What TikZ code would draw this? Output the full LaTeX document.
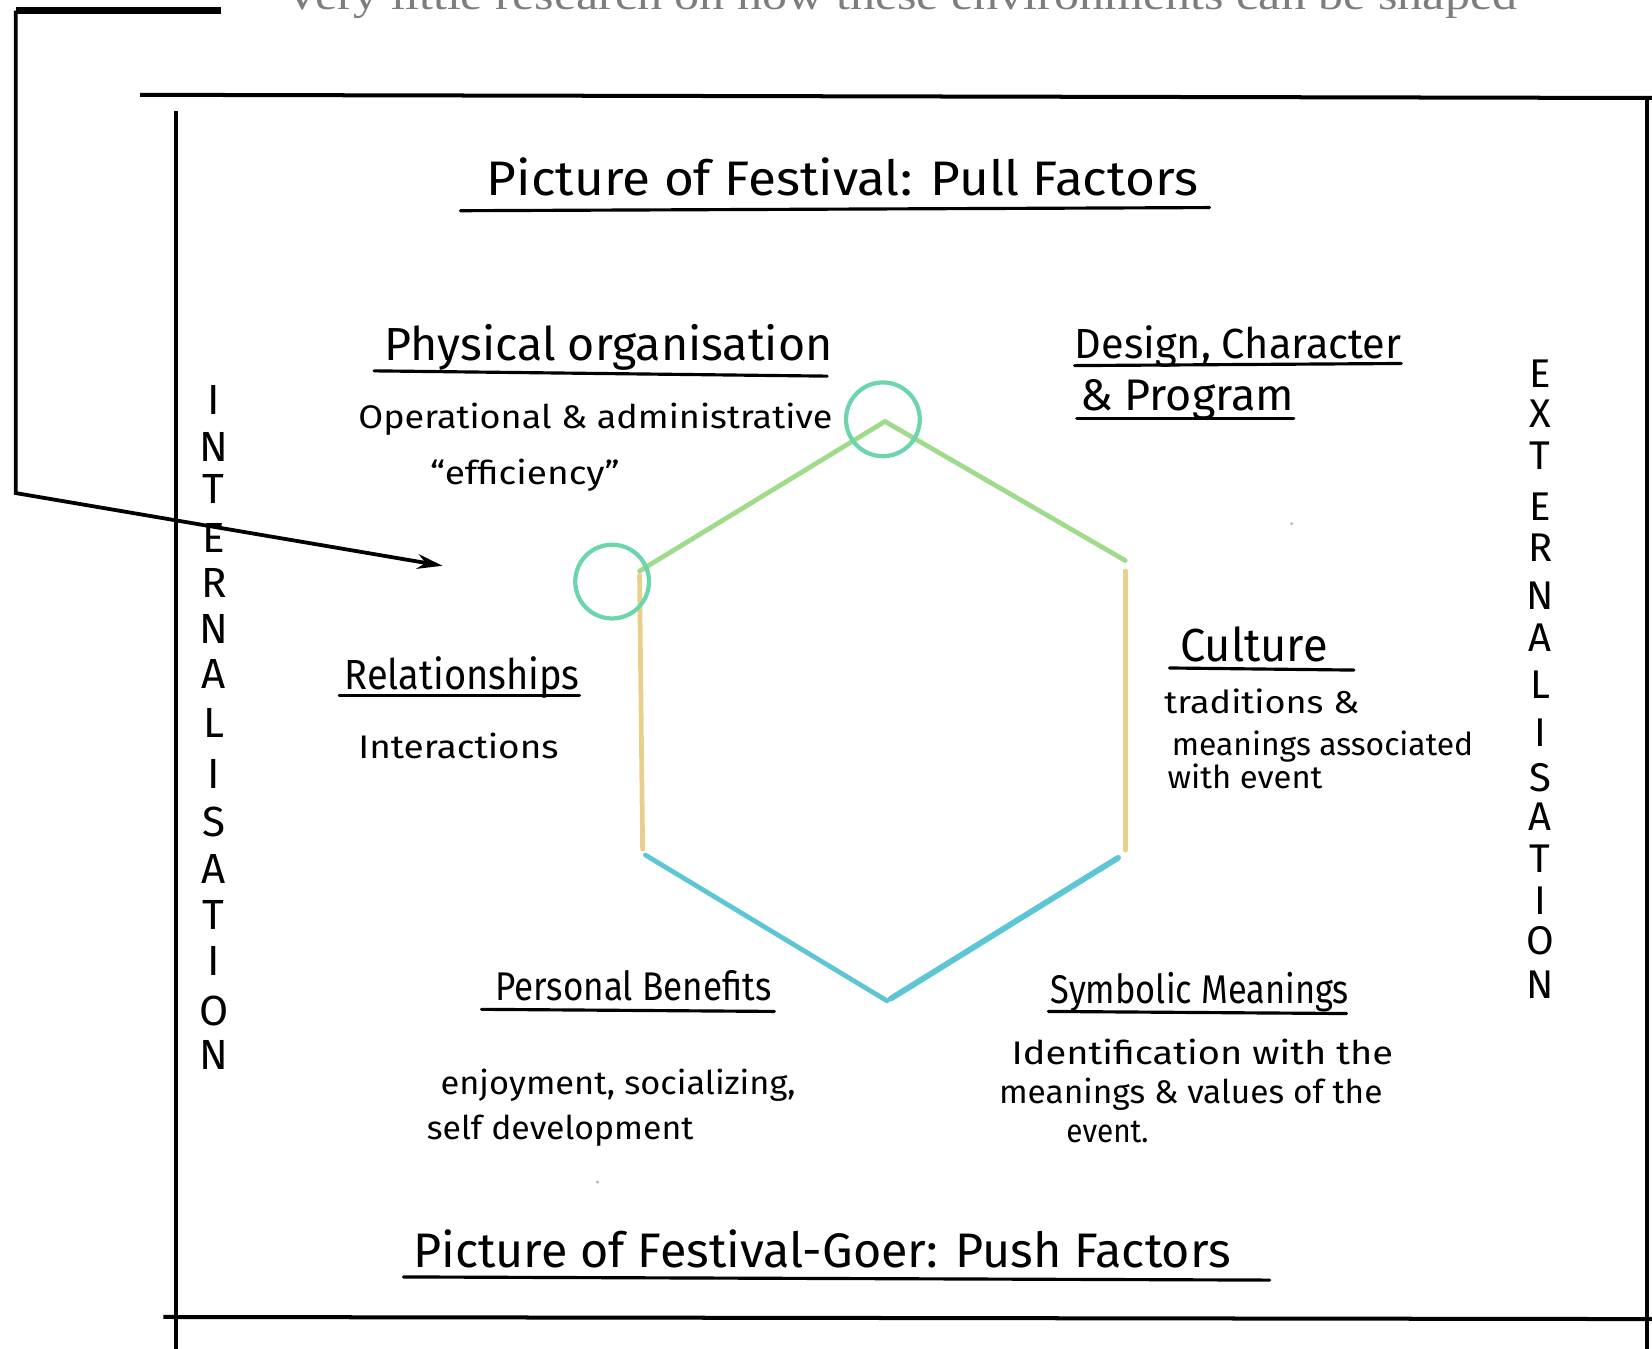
\documentclass[tikz,border=0pt]{standalone}
\usepackage{fontspec}
\setmainfont{Fira Sans}
\newfontfamily\greyfont{Liberation Serif}
\usetikzlibrary{arrows.meta}
\newcommand\hw[3]{{\fontsize{#1}{#1}\selectfont\resizebox{#2pt}{\height}{#3}}}
\definecolor{hexgreen}{RGB}{160,219,140}
\definecolor{hexyellow}{RGB}{232,208,140}
\definecolor{hexcyan}{RGB}{92,198,212}
\definecolor{ringteal}{RGB}{108,213,172}
\definecolor{greytext}{RGB}{125,125,125}
\tikzset{
  frameline/.style={line width=3.8pt, black},
  uline/.style={line width=3pt, black, line cap=round},
  hand/.style={inner sep=0pt, anchor=base west, black},
  vlet/.style={inner sep=0pt, anchor=center, font=\fontsize{40}{40}\selectfont},
  ring/.style={draw=ringteal, line width=4pt, circle, minimum size=70pt, inner sep=0pt},
  hexedge/.style={line width=4.5pt, line cap=round},
  pointer/.style={line width=3.6pt, black, -{Stealth[length=24pt,width=14pt]}},
  dot/.style={fill=gray!60, circle, inner sep=0pt, minimum size=3pt}
}
\begin{document}
\begin{tikzpicture}[x=1pt,y=-1pt]
\useasboundingbox (0,0) rectangle (1568,1280);

% grey text at top (cut off, as in the reference)
\node[inner sep=0pt, anchor=base, text=greytext] (topnote) at (855,9)
  {\greyfont\hw{40}{1170}{Very little research on how these environments can be shaped}};

% frame
\coordinate (ftl) at (133,90);
\coordinate (ftr) at (1568,93);
\coordinate (flt) at (167,105);
\coordinate (flb) at (167,1280);
\coordinate (frt) at (1563,95);
\coordinate (frb) at (1563,1280);
\coordinate (fbl) at (155,1250);
\coordinate (fbr) at (1568,1252);
\draw[frameline] (ftl) -- (ftr);
\draw[frameline] (flt) -- (flb);
\draw[frameline] (frt) -- (frb);
\draw[frameline] (fbl) -- (fbr);

% pointer arrow
\coordinate (a0) at (210,10);
\coordinate (a1) at (15,10);
\coordinate (a2) at (15,468);
\coordinate (a3) at (420,537);
\draw[line width=6pt, black] (a0) -- (a1);
\draw[pointer] (a1) -- (a2) -- (a3);

% hexagon
\coordinate (hT) at (840,400);
\coordinate (hUR) at (1068,532);
\coordinate (hLR) at (1068,810);
\coordinate (hB) at (842,950);
\coordinate (hLL) at (610,810);
\coordinate (hUL) at (607,542);
\draw[hexedge, hexgreen] (hUL) -- (hT);
\draw[hexedge, hexgreen] (hT) -- (hUR);
\draw[hexedge, hexyellow, shorten <=10pt, shorten >=3pt] (hUR) -- (hLR);
\draw[hexedge, hexyellow, shorten <=4pt, shorten >=4pt] (hUL) -- (hLL);
\draw[hexedge, hexcyan, shorten <=3pt] (hLL) -- (hB);
\draw[hexedge, hexcyan, line width=5.5pt, shorten <=4pt, shorten >=8pt] (hB) -- (hLR);

% rings
\node[ring] (ring1) at (838,398) {};
\node[ring] (ring2) at (581,552) {};

% titles
\node[hand] (titletop) at (462,186) {\hw{46}{675}{Picture of Festival: Pull Factors}};
\draw[uline] (437,200) -- (1148,197);
\node[hand] (titlebot) at (392,1203) {\hw{46}{776}{Picture of Festival-Goer: Push Factors}};
\draw[uline] (383,1212) -- (1205,1215);

% physical organisation
\node[hand] (phys) at (365,342) {\hw{44}{425}{Physical organisation}};
\draw[uline] (355,352) -- (785,357);
\node[hand] (oper) at (340,407) {\hw{31}{450}{Operational \& administrative}};
\node[hand] (effi) at (408,460) {\hw{31}{180}{“efficiency”}};

% design
\node[hand] (design) at (1020,340) {\hw{40}{310}{Design, Character}};
\draw[uline] (1020,347) -- (1330,345);
\node[hand] (prog) at (1025,390) {\hw{42}{203}{\& Program}};
\draw[uline] (1022,397) -- (1228,397);

% relationships
\node[hand] (rel) at (327,654) {\hw{40}{223}{Relationships}};
\draw[uline] (322,660) -- (550,660);
\node[hand] (inter) at (340,720) {\hw{31}{190}{Interactions}};

% culture
\node[hand] (cult) at (1120,628) {\hw{44}{140}{Culture}};
\draw[uline] (1110,634) -- (1285,636);
\node[hand] (trad) at (1105,677) {\hw{30}{185}{traditions \&}};
\node[hand] (mean) at (1112,717) {\hw{30}{286}{meanings associated}};
\node[hand] (withev) at (1108,748) {\hw{30}{147}{with event}};

% personal benefits
\node[hand] (pers) at (470,950) {\hw{38}{262}{Personal Benefits}};
\draw[uline] (457,958) -- (735,960);
\node[hand] (enjoy) at (418,1039) {\hw{31}{337}{enjoyment, socializing,}};
\node[hand] (selfdev) at (405,1082) {\hw{31}{253}{self development}};

% symbolic meanings
\node[hand] (symb) at (997,952) {\hw{38}{283}{Symbolic Meanings}};
\draw[uline] (995,960) -- (1278,962);
\node[hand] (ident) at (960,1010) {\hw{31}{362}{Identification with the}};
\node[hand] (meanv) at (948,1047) {\hw{31}{364}{meanings \& values of the}};
\node[hand] (eventd) at (1012,1084) {\hw{31}{78}{event.}};

% vertical words
\foreach \l/\yy [count=\i] in {I/380,N/424,T/464,E/511,R/553,N/597,A/640,L/686,I/735,S/780,A/825,T/868,I/912,O/960,N/1001}
  \node[vlet] (int\i) at (203,\yy) {\l};
\foreach \l/\yy [count=\i] in {E/355,X/393,T/433,E/481,R/520,N/565,A/605,L/650,I/695,S/738,A/775,T/815,I/855,O/893,N/935}
  \node[vlet, font=\fontsize{38}{38}\selectfont] (ext\i) at (1462,\yy) {\l};

% stray dots
\node[dot] (dot1) at (1226,497) {};
\node[dot] (dot2) at (567,1122) {};
\end{tikzpicture}
\end{document}
